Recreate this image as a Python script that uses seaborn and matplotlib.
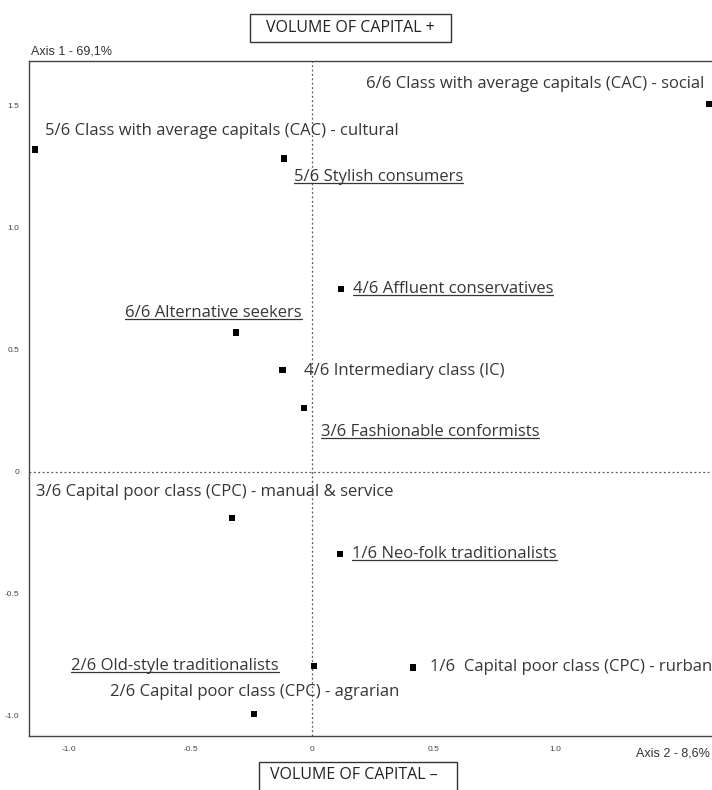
import numpy as np
import pandas as pd
import matplotlib
matplotlib.use("Agg")
import matplotlib.pyplot as plt
from matplotlib.lines import Line2D
from matplotlib.patches import Rectangle
import seaborn as sns

# coordinates on the two MCA axes
labels = [
    "6/6 Class with average capitals (CAC) - social",
    "5/6 Class with average capitals (CAC) - cultural",
    "5/6 Stylish consumers",
    "4/6 Affluent conservatives",
    "6/6 Alternative seekers",
    "4/6 Intermediary class (IC)",
    "3/6 Fashionable conformists",
    "3/6 Capital poor class (CPC) - manual & service",
    "1/6 Neo-folk traditionalists",
    "2/6 Old-style traditionalists",
    "1/6  Capital poor class (CPC) - rurban",
    "2/6 Capital poor class (CPC) - agrarian",
]
axis2 = [1.634, -1.14, -0.115, 0.119, -0.313, -0.123, -0.033, -0.329, 0.115, 0.008, 0.416, -0.239]
axis1 = [1.508, 1.32, 1.283, 0.75, 0.57, 0.418, 0.262, -0.189, -0.336, -0.795, -0.80, -0.992]
underlined = [False, False, True, True, True, False, True, False, True, True, False, False]

xticks = [-1.0, -0.5, 0, 0.5, 1.0, 1.5]
xtick_labels = ["-1.0", "-0.5", "0", "0.5", "1.0", ""]
yticks = [-1.0, -0.5, 0, 0.5, 1.0, 1.5]
ytick_labels = ["-1.0", "-0.5", "0", "0.5", "1.0", "1.5"]

df = pd.DataFrame({"label": labels, "x": axis2, "y": axis1, "ul": underlined})

# label placement relative to the marker (pixels) and alignment
offsets = [(-5, 20, "right"), (10, 19, "left"), (10, -18, "left"), (12, 0, "left"),
           (66, 20, "right"), (22, -1, "left"), (17, -24, "left"), (-196, 26, "left"),
           (12, 0, "left"), (-35, 0, "right"), (17, 0, "left"), (-144, 22, "left")]

sns.set_style("white")
plt.rcParams["font.family"] = ["Open Sans", "DejaVu Sans"]

fig = plt.figure(figsize=(7.12, 7.90), dpi=100)
ax = fig.add_axes([29 / 712, 54 / 790, 696 / 712, 675 / 790])

sns.scatterplot(data=df, x="x", y="y", marker="s", s=24, color="black",
                edgecolor="none", ax=ax, zorder=3)

ax.axvline(0, color="#555555", linestyle=(0, (1.5, 2)), linewidth=0.9, zorder=1)
ax.axhline(0, color="#555555", linestyle=(0, (1.5, 2)), linewidth=0.9, zorder=1)

ax.set_xlim(-1.165, 1.70)
ax.set_ylim(-1.082, 1.684)
ax.set_xticks(xticks)
ax.set_xticklabels(xtick_labels)
ax.set_yticks(yticks)
ax.set_yticklabels(ytick_labels)
ax.tick_params(direction="inout", length=6, width=0.8, color="#444444",
               labelsize=6, labelcolor="#444444", pad=4)
for t in ax.get_xticklabels() + ax.get_yticklabels():
    t.set_family(["Liberation Sans", "DejaVu Sans"])
ax.set_xlabel("")
ax.set_ylabel("")
for side in ["left", "bottom", "top"]:
    ax.spines[side].set_color("#444444")
    ax.spines[side].set_linewidth(1.0)
ax.spines["right"].set_visible(False)

texts = []
for (lab, x, y, ul), (dx, dy, ha) in zip(zip(labels, axis2, axis1, underlined), offsets):
    t = ax.annotate(lab, (x, y), xytext=(dx, dy), textcoords="offset pixels",
                    ha=ha, va="center", fontsize=12, color="#363636")
    texts.append((t, ul))

fig.text(31 / 712, 1 - 52 / 790, "Axis 1 - 69,1%", fontsize=9, color="#333333",
         family=["Liberation Sans", "DejaVu Sans"], va="center", ha="left")
fig.text(710 / 712, 1 - 753 / 790, "Axis 2 - 8,6%", fontsize=9, color="#333333",
         family=["Liberation Sans", "DejaVu Sans"], va="center", ha="right")

# boxed axis captions
fig.patches.append(Rectangle((250 / 712, 1 - 42 / 790), 201 / 712, 28 / 790,
                             transform=fig.transFigure, fill=False,
                             edgecolor="#333333", linewidth=1.0))
fig.text(350 / 712, 1 - 28 / 790, "VOLUME OF CAPITAL +", fontsize=11.5,
         color="#222222", ha="center", va="center")
fig.patches.append(Rectangle((259 / 712, 1 - 792 / 790), 198 / 712, 30 / 790,
                             transform=fig.transFigure, fill=False,
                             edgecolor="#333333", linewidth=1.0))
fig.text(354 / 712, 1 - 775 / 790, "VOLUME OF CAPITAL \u2013", fontsize=11.5,
         color="#222222", ha="center", va="center")

# underline selected labels
fig.canvas.draw()
renderer = fig.canvas.get_renderer()
for t, ul in texts:
    if not ul:
        continue
    bb = t.get_window_extent(renderer)
    yline = bb.y0 + 2
    fig.lines.append(Line2D([bb.x0 / 712, bb.x1 / 712], [yline / 790, yline / 790],
                            transform=fig.transFigure, color="#363636", linewidth=0.9))

fig.savefig("out.png", dpi=100)
